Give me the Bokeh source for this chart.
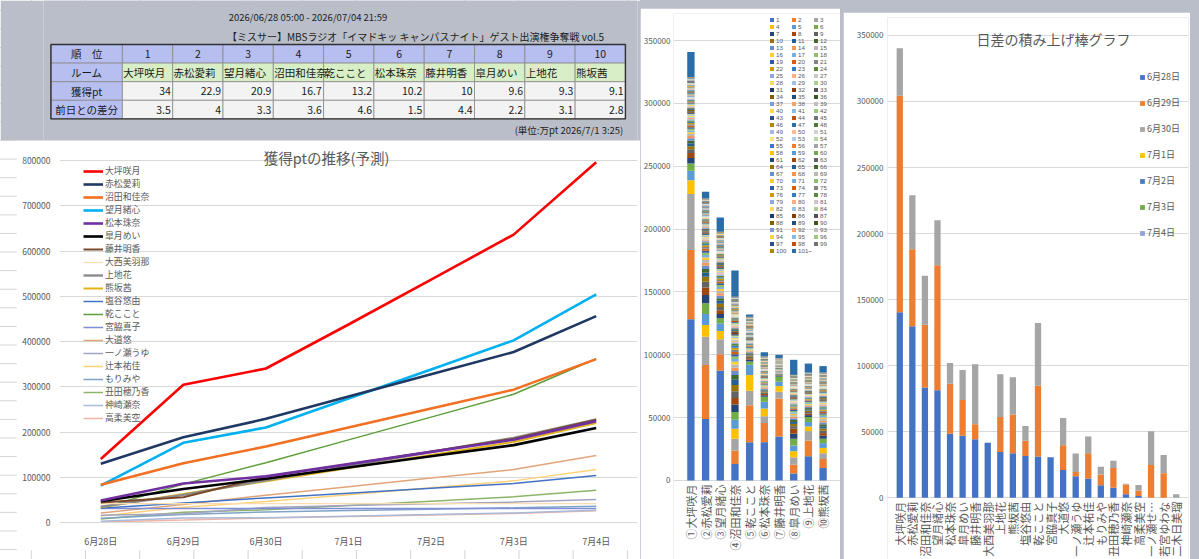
import colorsys
import math

from bokeh.core.properties import value
from bokeh.embed import file_html
from bokeh.layouts import column, row
from bokeh.models import (ColumnDataSource, FactorRange, FixedTicker, Label, LabelSet,
                          Legend, LegendItem, NumeralTickFormatter, Range1d)
from bokeh.plotting import figure
from bokeh.resources import INLINE

FONT = "Noto Sans CJK JP"
NUM_FONT = "Liberation Sans"
TXT = "#595959"
GRID = "#D9D9D9"
BG = "#B9BEC8"

# ---------------- ranking table ----------------
period_text = "2026/06/28 05:00 - 2026/07/04 21:59"
event_text = "【ミスサー】MBSラジオ「イマドキッ キャンパスナイト」ゲスト出演権争奪戦 vol.5"
unit_note = "(単位:万pt  2026/7/1 3:25)"
row_heads = ["順　位", "ルーム", "獲得pt", "前日との差分"]
ranks = ["1", "2", "3", "4", "5", "6", "7", "8", "9", "10"]
top10_rooms = ["大坪咲月", "赤松愛莉", "望月緒心", "沼田和佳奈", "乾ここと",
               "松本珠奈", "藤井明香", "皐月めい", "上地花", "熊坂茜"]
top10_pt = [34, 22.9, 20.9, 16.7, 13.2, 10.2, 10, 9.6, 9.3, 9.1]
top10_diff = [3.5, 4, 3.3, 3.6, 4.6, 1.5, 4.4, 2.2, 3.1, 2.8]

# ---------------- projected totals (line chart) ----------------
dates = ["6月28日", "6月29日", "6月30日", "7月1日", "7月2日", "7月3日", "7月4日"]
pts_ootsubo = [140500, 304300, 340300, 437600, 536900, 636200, 796000]
pts_akamatsu = [129800, 188200, 229100, 278300, 327500, 376700, 456000]
pts_numata = [83500, 130900, 168000, 209900, 251700, 293600, 361000]
pts_mochizuki = [81300, 176100, 210000, 274200, 338300, 402500, 504000]
pts_matsumoto = [48500, 86200, 102000, 129000, 156000, 183000, 224000]
pts_satsuki = [46900, 74000, 96700, 121500, 146300, 171000, 209000]
pts_fujii = [44200, 55700, 101000, 129000, 157000, 185000, 227000]
pts_oonishi = [41700, 41700, 41700, 41700, 41700, 41700, 41700]
pts_kamiji = [34700, 61100, 93400, 124600, 155800, 187000, 228000]
pts_kumasaka = [33600, 63000, 91300, 120200, 149100, 178000, 220000]
pts_shioya = [31500, 43100, 54400, 64900, 75500, 86000, 104000]
pts_inui = [31200, 84800, 132200, 182600, 232900, 283300, 362000]
pts_miyawaki = [30700, 30700, 30700, 30700, 30700, 30700, 30700]
pts_oomichi = [21000, 39800, 60300, 79200, 98100, 117000, 148000]
pts_ichinose = [16200, 19400, 33400, 37300, 41200, 45100, 51000]
pts_tsujimoto = [14500, 33700, 46300, 61500, 76700, 92000, 117000]
pts_morimiya = [9400, 17500, 23400, 26500, 29500, 32500, 36000]
pts_ushida = [7500, 22600, 28000, 37600, 47100, 56700, 71400]
pts_kanzaki = [2700, 10000, 10500, 14000, 17500, 21000, 27000]
pts_takaju = [1300, 5400, 9700, 13000, 16500, 20000, 25800]

line_series = [
    ("大坪咲月", pts_ootsubo, "#FF0000", 2.6),
    ("赤松愛莉", pts_akamatsu, "#1F3864", 2.6),
    ("沼田和佳奈", pts_numata, "#F36F21", 2.6),
    ("望月緒心", pts_mochizuki, "#00B0F0", 2.6),
    ("松本珠奈", pts_matsumoto, "#7030A0", 2.6),
    ("皐月めい", pts_satsuki, "#000000", 2.6),
    ("藤井明香", pts_fujii, "#7B4A2A", 2.0),
    ("大西美羽那", pts_oonishi, "#F9DDB0", 1.2),
    ("上地花", pts_kamiji, "#8C8C8C", 2.4),
    ("熊坂茜", pts_kumasaka, "#E4B318", 2.0),
    ("塩谷悠由", pts_shioya, "#4472C4", 1.5),
    ("乾ここと", pts_inui, "#5E9E3A", 1.5),
    ("宮脇真子", pts_miyawaki, "#7F8FD6", 1.5),
    ("大道悠", pts_oomichi, "#E2A57A", 1.5),
    ("一ノ瀬うゆ", pts_ichinose, "#A3A3C2", 1.5),
    ("辻本祐佳", pts_tsujimoto, "#FFD27A", 1.5),
    ("もりみや", pts_morimiya, "#7FA4C8", 1.5),
    ("丑田穂乃香", pts_ushida, "#8DB46A", 1.5),
    ("神崎瀬奈", pts_kanzaki, "#A9B9D9", 1.5),
    ("高柔美空", pts_takaju, "#F2B4A4", 1.5),
]

# ---------------- points per listener rank (x100 pt) ----------------
rank_rooms = ["①大坪咲月", "②赤松愛莉", "③望月緒心", "④沼田和佳奈", "⑤乾ここと",
              "⑥松本珠奈", "⑦藤井明香", "⑧皐月めい", "⑨上地花", "⑩熊坂茜"]
rank_labels = [str(i) for i in range(1, 101)] + ["101~"]
r_ootsubo = [1282, 551, 445, 111, 74, 58, 45, 40,
             28, 25, 23, 21, 19, 18, 16, 15, 14, 13, 12, 12,
             11, 11, 10, 10, 10, 9, 9, 9, 8, 8, 8, 8, 7, 7, 7, 7, 7, 6, 6, 6,
             6, 6, 6, 5, 5, 5, 5, 5, 5, 5, 4, 4, 4, 4, 4, 4, 4, 4, 4, 4,
             4, 4, 4, 4, 4, 4, 4, 4, 4, 4, 4, 3, 3, 3, 3, 3, 3, 3, 3, 3,
             3, 3, 3, 3, 3, 3, 3, 3, 3, 3, 3, 3, 3, 3, 3, 3, 3, 3, 3, 3,
             198]
r_akamatsu = [490, 429, 225, 93, 87, 85, 66, 61, 45, 40,
              32, 29, 26, 24, 22, 20, 19, 18, 17, 16,
              14, 13, 12, 12, 11, 11, 10, 10, 9, 9, 9, 8, 8, 8, 8, 7, 7, 7, 7, 7,
              7, 6, 6, 6, 6, 6, 5, 5, 5, 5, 5, 5, 5, 5, 4, 4, 4, 4, 4, 4,
              3, 3, 3, 3, 3, 3, 3, 3, 3, 3, 3, 3, 3, 3, 3, 3, 3, 3, 3, 3,
              3, 3, 3, 3, 3, 3, 3, 3, 3, 3, 3, 2, 2, 2, 2, 2, 2, 2, 2, 2,
              53]
r_mochizuki = [874, 130, 119, 66, 61, 40, 34,
               30, 27, 25, 23, 21, 20, 19, 18, 17, 16, 15, 14, 13,
               12, 12, 11, 11, 10, 10, 10, 9, 9, 9, 8, 8, 8, 8, 7, 7, 7, 7, 6, 6,
               6, 6, 6, 6, 5, 5, 5, 5, 5, 5, 5, 5, 4, 4, 4, 4, 4, 4, 4, 4,
               4, 4, 4, 4, 4, 3, 3, 3, 3, 3, 3, 3, 3, 3, 3, 3, 3, 3, 3, 3,
               3, 3, 3, 3, 3, 3, 3, 3, 3, 3, 3, 3, 3, 3, 3, 3, 3, 3, 3, 3,
               114]
r_numata = [131, 107, 94, 80, 72, 61, 59, 53, 53, 49, 46, 35,
            30, 27, 25, 23, 21, 20, 19, 18,
            17, 16, 15, 14, 13, 12, 12, 11, 11, 10, 10, 10, 9, 9, 9, 8, 8, 8, 8, 7,
            7, 7, 7, 7, 6, 6, 6, 6, 6, 6, 5, 5, 5, 5, 5, 5, 5, 5, 4, 4,
            3, 3, 3, 3, 3, 3, 3, 3, 3, 3, 3, 3, 3, 3, 3, 3, 3, 3, 3, 3,
            3, 3, 3, 3, 3, 3, 3, 3, 3, 3, 2, 2, 2, 2, 2, 2, 2, 2, 2, 2,
            208]
r_inui = [305, 294, 115, 126, 80, 27,
          14, 12, 11, 10, 9, 9, 8, 8, 7, 7, 7, 6, 6, 6,
          6, 5, 5, 5, 5, 5, 5, 4, 4, 4, 4, 4, 4, 4, 4, 4, 4, 3, 3, 3,
          3, 3, 3, 3, 3, 3, 3, 3, 3, 3, 3, 3, 3, 3, 3, 3, 3, 3, 3, 3,
          3, 3, 3, 3, 3, 3, 3, 3, 3, 3, 3, 2, 2, 2, 2, 2, 2, 2, 2, 2,
          2, 2, 2, 2, 2, 2, 2, 2, 2, 2, 2, 2, 2, 2, 2, 2, 2, 2, 2, 2,
          17]
r_matsumoto = [305, 152, 54, 61, 54, 40,
               12, 11, 10, 9, 8, 8, 7, 7, 6, 6, 6, 5, 5, 5,
               5, 5, 5, 4, 4, 4, 4, 4, 4, 4, 4, 4, 4, 3, 3, 3, 3, 3, 3, 3,
               3, 3, 3, 3, 3, 3, 3, 3, 3, 3, 3, 3, 3, 3, 3, 3, 3, 3, 3, 3,
               2, 2, 2, 2, 2, 2, 2, 2, 2, 2, 2, 2, 2, 2, 2, 2, 2, 2, 2, 2,
               2, 2, 2, 2, 2, 2, 2, 2, 2, 2, 2, 2, 2, 2, 2, 2, 2, 2, 2, 2,
               33]
r_fujii = [350, 302, 54, 45, 35, 40,
           5, 4, 4, 3, 3, 3, 3, 2, 2, 2, 2, 2, 2, 2,
           2, 2, 2, 2, 2, 2, 2, 2, 2, 2, 2, 2, 2, 2, 2, 1, 1, 1, 1, 1,
           2, 2, 2, 2, 2, 2, 2, 2, 2, 2, 2, 2, 2, 1, 1, 1, 1, 1, 1, 1,
           1, 1, 1, 1, 1, 1, 1, 1, 1, 1, 1, 1, 1, 1, 1, 1, 1, 1, 1, 1,
           1, 1, 1, 1, 1, 1, 1, 1, 1, 1, 1, 1, 1, 1, 1, 1, 1, 1, 1, 1,
           27]
r_satsuki = [56, 70, 58, 49, 45, 54, 40, 40,
             20, 18, 16, 15, 14, 13, 12, 11, 11, 10, 10, 9,
             9, 9, 8, 8, 8, 7, 7, 7, 6, 6, 6, 6, 5, 5, 5, 5, 5, 5, 4, 4,
             4, 4, 4, 4, 4, 4, 4, 4, 4, 4, 4, 4, 4, 4, 3, 3, 3, 3, 3, 3,
             2, 2, 2, 2, 2, 2, 2, 2, 2, 2, 2, 2, 2, 2, 2, 2, 2, 2, 2, 2,
             2, 2, 2, 2, 2, 2, 2, 2, 2, 2, 1, 1, 1, 1, 1, 1, 1, 1, 1, 1,
             120]
r_kamiji = [193, 125, 75, 37, 35, 40,
            15, 13, 12, 11, 10, 10, 9, 9, 8, 8, 7, 7, 7, 6,
            6, 6, 6, 5, 5, 5, 5, 5, 5, 4, 4, 4, 4, 4, 4, 4, 4, 4, 3, 3,
            3, 3, 3, 3, 3, 3, 3, 3, 3, 3, 3, 3, 3, 3, 3, 3, 3, 3, 3, 3,
            2, 2, 2, 2, 2, 2, 2, 2, 2, 2, 2, 2, 2, 2, 2, 2, 2, 2, 2, 2,
            2, 2, 2, 2, 2, 2, 2, 2, 2, 2, 2, 1, 1, 1, 1, 1, 1, 1, 1, 1,
            72]
r_kumasaka = [99, 72, 46, 42, 38, 35,
              24, 21, 19, 18, 17, 16, 15, 14, 13, 12, 12, 11, 11, 10,
              10, 10, 9, 9, 9, 8, 8, 8, 7, 7, 7, 7, 6, 6, 6, 6, 6, 5, 5, 5,
              5, 5, 5, 5, 5, 5, 4, 4, 4, 4, 4, 4, 4, 4, 4, 4, 3, 3, 3, 3,
              3, 3, 3, 3, 3, 3, 3, 2, 2, 2, 2, 2, 2, 2, 2, 2, 2, 2, 2, 2,
              2, 2, 2, 2, 2, 2, 2, 2, 2, 2, 2, 2, 2, 2, 2, 2, 2, 2, 2, 2,
              52]
rank_series = [r_ootsubo, r_akamatsu, r_mochizuki, r_numata, r_inui,
               r_matsumoto, r_fujii, r_satsuki, r_kamiji, r_kumasaka]

# ---------------- daily gains (days after 6/30 not counted yet) ----------------
gain_rooms = ["大坪咲月", "赤松愛莉", "沼田和佳奈", "望月緒心", "松本珠奈", "皐月めい",
              "藤井明香", "大西美羽那", "上地花", "熊坂茜", "塩谷悠由", "乾ここと",
              "宮脇真子", "大道悠", "一ノ瀬うゆ", "辻本祐佳", "もりみや", "丑田穂乃香",
              "神崎瀬奈", "高柔美空", "一ノ瀬せ…", "若宮ゆわな", "二木日美瑠"]
gain_0628 = [140500, 129800, 83500, 81300, 48500, 46900, 44200, 41700, 34700, 33600,
             31500, 31200, 30700, 21000, 16200, 14500, 9400, 7500, 2700, 1300, 0, 0, 0]
gain_0629 = [163800, 58400, 47400, 94800, 37700, 27100, 11500, 0, 26400, 29400,
             11600, 53600, 0, 18800, 3200, 19200, 8100, 15100, 7300, 4100, 24800, 18600, 0]
gain_0630 = [36000, 40900, 37100, 33900, 15800, 22700, 45300, 0, 32300, 28300,
             11300, 47400, 0, 20500, 14000, 12600, 5900, 5400, 500, 4300, 25500, 13700, 2700]
gain_0701 = [0, 0, 0, 0, 0, 0, 0, 0, 0, 0, 0, 0, 0, 0, 0, 0, 0, 0, 0, 0, 0, 0, 0]
gain_0702 = [0, 0, 0, 0, 0, 0, 0, 0, 0, 0, 0, 0, 0, 0, 0, 0, 0, 0, 0, 0, 0, 0, 0]
gain_0703 = [0, 0, 0, 0, 0, 0, 0, 0, 0, 0, 0, 0, 0, 0, 0, 0, 0, 0, 0, 0, 0, 0, 0]
gain_0704 = [0, 0, 0, 0, 0, 0, 0, 0, 0, 0, 0, 0, 0, 0, 0, 0, 0, 0, 0, 0, 0, 0, 0]
gain_days = ["6月28日", "6月29日", "6月30日", "7月1日", "7月2日", "7月3日", "7月4日"]
gain_colors = ["#4472C4", "#ED7D31", "#A5A5A5", "#FFC000", "#4A7EBB", "#70AD47", "#8EA3D6"]

ACCENTS = ["#4472C4", "#ED7D31", "#A5A5A5", "#FFC000", "#5B9BD5", "#70AD47"]
SHADES = [(1.0, 0.0), (0.6, 0.0), (0.8, 0.2), (0.8, 0.0), (0.6, 0.4),
          (0.5, 0.0), (0.7, 0.3), (0.7, 0.0), (0.5, 0.5)]


def office_color(i):
    base = ACCENTS[i % 6]
    mod, off = SHADES[(i // 6) % len(SHADES)]
    r, g, b = (int(base[k:k + 2], 16) / 255 for k in (1, 3, 5))
    h, l, s = colorsys.rgb_to_hls(r, g, b)
    l = min(1.0, l * mod + off)
    r, g, b = colorsys.hls_to_rgb(h, l, s)
    return "#%02x%02x%02x" % (round(r * 255), round(g * 255), round(b * 255))


def style_axes(p, label_size="8px"):
    p.xgrid.grid_line_color = None
    p.ygrid.grid_line_color = GRID
    p.outline_line_color = None
    p.yaxis.axis_line_color = None
    p.yaxis.major_tick_line_color = None
    p.yaxis.minor_tick_line_color = None
    p.yaxis.major_tick_out = 0
    p.yaxis.major_tick_in = 0
    p.yaxis.major_label_text_font = FONT
    p.yaxis.major_label_text_font_size = label_size
    p.yaxis.major_label_text_color = TXT
    p.yaxis.formatter = NumeralTickFormatter(format="0")
    p.xaxis.axis_line_color = GRID
    p.xaxis.major_tick_line_color = None
    p.xaxis.minor_tick_line_color = None
    p.xaxis.major_label_text_font = FONT
    p.xaxis.major_label_text_color = TXT


def name_labels(p, source, field):
    # category names written upward below the zero line
    p.add_layout(LabelSet(x=field, y=0, text=field, source=source, angle=math.pi / 2,
                          text_align="right", text_baseline="middle", y_offset=-4,
                          text_font=value(FONT), text_font_size=value("11px"),
                          text_color=TXT))


# ================= table panel =================
tp = figure(width=640, height=140, x_range=Range1d(0, 640), y_range=Range1d(140, 0),
            output_backend="svg", toolbar_location=None, x_axis_type=None, y_axis_type=None,
            min_border=0, background_fill_color=BG, border_fill_color=BG, outline_line_color=None)
tp.xgrid.visible = False
tp.ygrid.visible = False

TX0, HEAD_W, CELL_W = 8.0, 77.0, 54.2
TY0, ROW_H = 44.0, 18.6
lefts = [TX0] + [TX0 + HEAD_W + i * CELL_W for i in range(10)]
rights = [TX0 + HEAD_W] + [TX0 + HEAD_W + (i + 1) * CELL_W for i in range(10)]
cell_fill = ["#B7BEF0", "#D8EEC6", "#F3F3F3", "#F3F3F3"]
q = dict(left=[], right=[], top=[], bottom=[], fill=[])
for r_i in range(4):
    for c_i in range(11):
        q["left"].append(lefts[c_i])
        q["right"].append(rights[c_i])
        q["top"].append(TY0 + r_i * ROW_H)
        q["bottom"].append(TY0 + (r_i + 1) * ROW_H)
        q["fill"].append("#B7BEF0" if (c_i == 0 or r_i == 0) else cell_fill[r_i])
tp.quad(left="left", right="right", top="top", bottom="bottom", fill_color="fill",
        line_color="#8A8A8A", line_width=0.8, source=ColumnDataSource(q))
tp.quad(left=[lefts[0]], right=[rights[-1]], top=[TY0], bottom=[TY0 + 4 * ROW_H],
        fill_color=None, line_color="#303030", line_width=1.4)

mid_x = [(lefts[0] + rights[0]) / 2] * 4
row_y = [TY0 + (k + 0.5) * ROW_H for k in range(4)]
tf = dict(text_font=value(FONT), text_font_size=value("10.5px"), text_color="#1A1A1A",
          text_baseline="middle")
tp.text(x=mid_x, y=row_y, text=row_heads, text_align="center", **tf)
centers = [(lefts[i] + rights[i]) / 2 for i in range(1, 11)]
tp.text(x=centers, y=[row_y[0]] * 10, text=ranks, text_align="center", **tf)
tp.text(x=[lefts[i] + 1 for i in range(1, 11)], y=[row_y[1]] * 10, text=top10_rooms,
        text_align="left", **tf)
tp.text(x=[rights[i] - 2 for i in range(1, 11)], y=[row_y[2]] * 10,
        text=[f"{v:g}" for v in top10_pt], text_align="right", **tf)
tp.text(x=[rights[i] - 2 for i in range(1, 11)], y=[row_y[3]] * 10,
        text=[f"{v:g}" for v in top10_diff], text_align="right", **tf)
tp.text(x=[285], y=[16], text=[period_text], text_align="center", text_baseline="middle",
        text_font=value(FONT), text_font_size=value("9.5px"), text_color="#222222")
tp.text(x=[401], y=[36], text=[event_text], text_align="center", text_baseline="middle",
        text_font=value(FONT), text_font_size=value("10px"), text_color="#222222")
tp.text(x=[627], y=[129], text=[unit_note], text_align="right", text_baseline="middle",
        text_font=value(FONT), text_font_size=value("9.5px"), text_color="#222222")

# ================= projected totals =================
lp = figure(width=624, height=410, x_range=dates, y_range=Range1d(0, 828730),
            output_backend="svg", toolbar_location=None, margin=(0, 0, 9, 16),
            min_border_left=43, min_border_right=3, min_border_top=7, min_border_bottom=21,
            background_fill_color="white", border_fill_color="white")
style_axes(lp, "8.5px")
lp.yaxis.ticker = FixedTicker(ticks=list(range(0, 800001, 100000)))
lp.yaxis.major_label_standoff = 9
lp.xaxis.major_label_text_font_size = "9px"
lp.xaxis.major_label_standoff = 6
lp.add_layout(Label(x=3.234, y=806600, text="獲得ptの推移(予測)", text_align="center",
                    text_baseline="middle", text_font=FONT, text_font_size="14.5px",
                    text_color=TXT))

line_items = []
for name, vals, col, lw in reversed(line_series):
    rr = lp.line(x=dates, y=vals, line_color=col, line_width=lw)
    line_items.append(LegendItem(label=name, renderers=[rr]))
line_items.reverse()
lleg = Legend(items=line_items, location=(24, 98), label_text_font=FONT,
              label_text_font_size="8.9px", label_text_color=TXT, glyph_width=20,
              glyph_height=10, label_height=10, spacing=0, padding=0, margin=0,
              label_standoff=2, background_fill_alpha=0, border_line_alpha=0)
lp.add_layout(lleg)

# ================= points by listener rank =================
rank_fields = [f"r{i}" for i in range(len(rank_labels))]
rank_data = {"room": rank_rooms}
for k, fld in enumerate(rank_fields):
    rank_data[fld] = [series[k] * 100 for series in rank_series]
rank_src = ColumnDataSource(rank_data)
mp = figure(width=200, height=551,
            x_range=FactorRange(*rank_rooms, range_padding=0.137),
            y_range=Range1d(-62850, 371480),
            output_backend="svg", toolbar_location=None, margin=(8, 0, 0, 0),
            min_border_left=30, min_border_right=0, min_border_top=5, min_border_bottom=0,
            background_fill_color="white", border_fill_color="white")
style_axes(mp, "8px")
mp.xaxis.visible = False
mp.yaxis.ticker = FixedTicker(ticks=list(range(0, 350001, 50000)))
mp.yaxis.major_label_standoff = 3
rank_colors = [office_color(i) for i in range(len(rank_labels))]
rank_renderers = mp.vbar_stack(rank_fields, x="room", width=0.5, fill_color=rank_colors,
                               line_color=None, source=rank_src)
name_labels(mp, rank_src, "room")
mleg = Legend(items=[LegendItem(label=lab, renderers=[r])
                     for lab, r in zip(rank_labels, rank_renderers)],
              orientation="horizontal", ncols=3, location=(96, 305),
              label_text_font=NUM_FONT, label_text_font_size="6.2px", label_text_color=TXT,
              glyph_width=5, glyph_height=5, label_height=5, label_width=15, spacing=0,
              padding=0, margin=0, label_standoff=2,
              background_fill_alpha=0, border_line_alpha=0)
mp.add_layout(mleg)

# ================= daily gains =================
gain_fields = ["d0628", "d0629", "d0630", "d0701", "d0702", "d0703", "d0704"]
gain_src = ColumnDataSource(dict(room=gain_rooms, d0628=gain_0628, d0629=gain_0629,
                                 d0630=gain_0630, d0701=gain_0701, d0702=gain_0702,
                                 d0703=gain_0703, d0704=gain_0704))
rp = figure(width=347, height=547,
            x_range=FactorRange(*gain_rooms, range_padding=0.0415),
            y_range=Range1d(-46767, 363580),
            output_backend="svg", toolbar_location=None, margin=(12, 9, 0, 3),
            min_border_left=44, min_border_right=2, min_border_top=3, min_border_bottom=0,
            background_fill_color="white", border_fill_color="white")
style_axes(rp, "8px")
rp.xaxis.visible = False
rp.yaxis.ticker = FixedTicker(ticks=list(range(0, 350001, 50000)))
rp.yaxis.major_label_standoff = 4
gain_renderers = rp.vbar_stack(gain_fields, x="room", width=0.5,
                               fill_color=gain_colors, line_color=None, source=gain_src)
name_labels(rp, gain_src, "room")
rleg = Legend(items=[LegendItem(label=lab, renderers=[r])
                     for lab, r in zip(gain_days, gain_renderers)],
              location=(252, 320), label_text_font=FONT, label_text_font_size="9px",
              label_text_color=TXT, glyph_width=6, glyph_height=6, label_height=6,
              spacing=13, padding=0, margin=0, label_standoff=2,
              background_fill_alpha=0, border_line_alpha=0)
rp.add_layout(rleg)
rp.add_layout(Label(x=12.73, y=347000, text="日差の積み上げ棒グラフ", text_align="center",
                    text_baseline="middle", text_font=FONT, text_font_size="14px",
                    text_color=TXT))

# spreadsheet cell lines showing around the line chart panel
sheet_style = {
    "background-color": "white",
    "background-image": "linear-gradient(to right, #D4D4D4 1px, transparent 1px), "
                        "linear-gradient(to bottom, #D4D4D4 1px, transparent 1px)",
    "background-size": "54.2px 18.6px",
    "background-position": "85px 140px",
}
left_col = column(tp, lp, spacing=0, styles=sheet_style)
page = row(left_col, mp, rp, spacing=0, styles={"background-color": BG})

with open("out.html", "w") as fh:
    fh.write(file_html(page, INLINE))
